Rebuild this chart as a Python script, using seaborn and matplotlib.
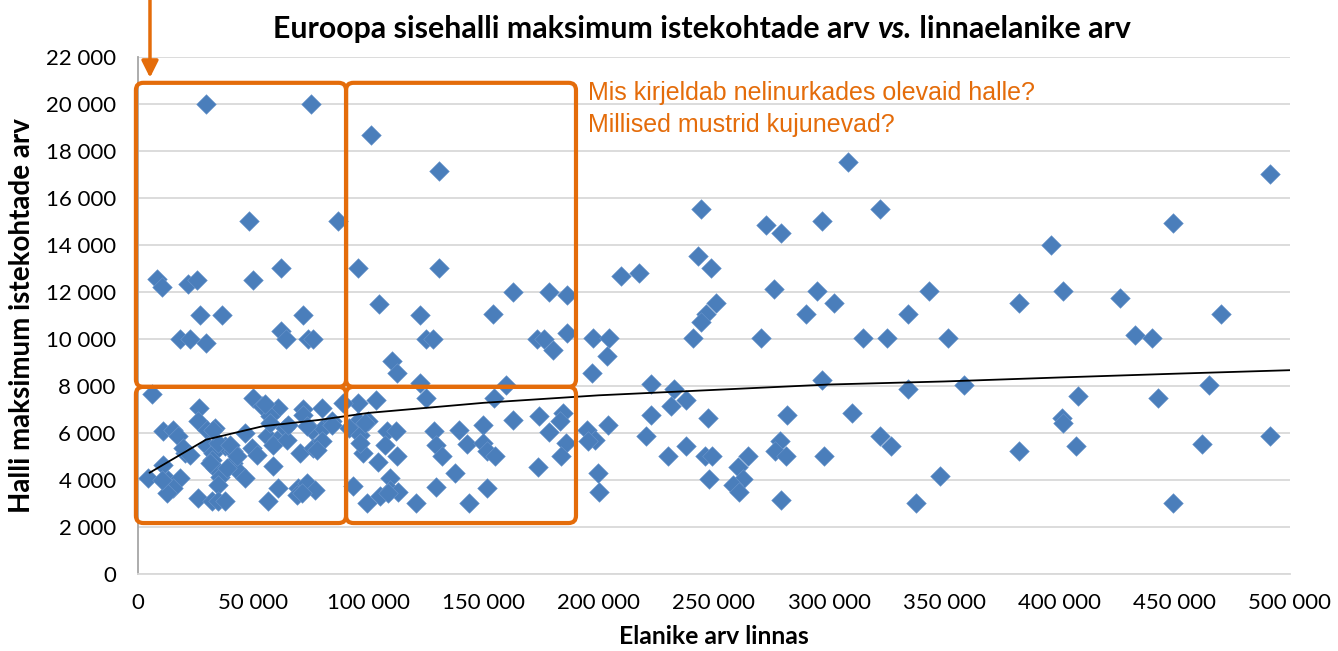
import numpy as np
import pandas as pd
import seaborn as sns
import matplotlib.pyplot as plt
from matplotlib.patches import FancyBboxPatch
from matplotlib.ticker import FuncFormatter, MultipleLocator

# Elanike arv linnas (x) ja halli maksimum istekohtade arv (y)
population = [
    # ülemine vasak kast
    29500, 75000, 48200, 87000, 8100, 10500, 21600, 25500, 49900, 62000,
    27000, 36600, 71500, 18200, 22600, 29500, 62000, 64200, 74000, 75800,
    # ülemine parem kast
    101000, 130500, 95500, 130800, 104600, 162900, 178400, 186200, 122300, 154000,
    125000, 128200, 173300, 176200, 186300, 180200, 110400, 112500,
    # alumine parem kast
    122400, 125000, 159700, 154500, 103300, 95600,
    95600, 100000, 91700, 96300, 108000, 112000, 107200, 97500, 104300, 112500,
    128500, 129300, 131800, 139500, 142700, 149900, 149900, 151300, 154900, 162900,
    174200, 184300, 183200, 178500, 185700, 183400, 173600, 137600, 93400, 109400,
    105000, 99500, 109400, 113000, 120700, 129300, 143800, 151300, 98500, 96300, 108600,
    # alumine vasak kast
    6200, 26600, 50000, 53700, 60900, 71500, 79700, 89100,
    11000, 15300, 17500, 26200, 29800, 33400, 46400, 57300, 55800, 60200, 63800, 71700,
    75400, 80400, 84000,
    20400, 29800, 32700, 37800, 41400, 49300, 51500, 58700, 64500, 70300, 76100, 79700,
    11000, 4500, 13200, 18200, 15300, 12500,
    32000, 33400, 35600, 41400, 42800, 46400, 34800, 58700, 60900, 69600, 73200, 76800, 68900,
    26200, 32000, 34800, 37800, 56500,
    19700, 22600, 34800, 39900, 31200, 38500, 42800, 32700,
    55100, 57300, 65200, 73200, 84000, 77600, 71000, 10300,
    # kastidest paremal
    308300, 244200, 322000, 272400, 279100, 297000, 243200, 248500, 209500, 217400,
    276000, 294500, 302100, 343400, 250700, 246500, 244200, 289900, 334000, 197600,
    204300, 203400, 241000, 270200, 314500, 324900, 196900, 222600, 232600, 237800,
    231200, 297000, 334000, 222600, 247500, 281500, 310000, 194700, 204100, 198300,
    195400, 220500, 230200, 237800, 246100, 249000, 264900, 260500, 262400, 258100,
    261000, 248000, 278600, 276500, 281200, 297900, 322000, 326700, 199800, 200200,
    279100, 337700, 348000,
    491300, 449100, 396100, 401300, 382400, 426200, 469900, 351700, 432700, 440200,
    358600, 465000, 408100, 442500, 400900, 401500, 382400, 407100, 461600, 491300, 449100,
]
capacity = [
    20000, 20000, 15000, 15000, 12550, 12200, 12350, 12500, 12500, 13000,
    11000, 11000, 11000, 10000, 10000, 9800, 10350, 10000, 10000, 10000,
    18680, 17150, 13000, 13000, 11500, 12000, 12000, 11850, 11000, 11050,
    10000, 10000, 10000, 10000, 10250, 9530, 9050, 8550,
    8120, 7480, 8050, 7480, 7410, 7270,
    6480, 6480, 6200, 5910, 6050, 6050, 5490, 5130, 4770, 5020,
    6050, 5490, 5020, 6130, 5530, 6340, 5560, 5200, 5020, 6550,
    6700, 6840, 6480, 6010, 5560, 5020, 4530, 4300, 3710, 4060,
    3280, 3020, 3560, 3490, 3020, 3680, 3020, 3640, 6410, 5560, 3420,
    7660, 7050, 7480, 7120, 7050, 7010, 7050, 7270,
    6050, 6130, 5840, 6480, 6130, 6200, 5990, 6700, 5840, 5700, 6200, 6770,
    6130, 6200, 6480,
    5130, 5410, 5130, 5410, 5200, 5350, 5060, 5490, 5700, 5130, 5350, 5630,
    4630, 4070, 3990, 4070, 3640, 3420,
    4850, 4490, 4130, 4710, 4420, 4070, 3780, 4560, 3640, 3640, 3850, 3570, 3350,
    3210, 3070, 3070, 3070, 3070,
    5350, 5060, 5560, 5490, 4710, 4490, 4990, 6130,
    7200, 6410, 6340, 6270, 6340, 5270, 3420, 3990,
    17520, 15520, 15520, 14840, 14500, 15020, 13530, 13000, 12680, 12780,
    12110, 12030, 11510, 12030, 11510, 11040, 10710, 11040, 11040, 10010,
    10010, 9260, 10010, 10010, 10010, 10010, 8550, 8080, 7840, 7410,
    7120, 8260, 7840, 6730, 6630, 6770, 6840, 6130, 6340, 5700,
    5630, 5840, 5020, 5440, 5020, 5020, 5020, 4530, 4020, 3780,
    3490, 4020, 5630, 5200, 5020, 5020, 5840, 5440, 4280, 3490,
    3110, 3020, 4160,
    17020, 14920, 14010, 12030, 11510, 11720, 11040, 10010, 10140, 10010,
    8010, 8020, 7550, 7480, 6630, 6420, 5230, 5440, 5530, 5840, 3020,
]

# trendijoon, loetud pildilt
trend_x = [5000, 29500, 54000, 78500, 100000, 150000, 200000, 300000, 350000, 400000, 450000, 500000]
trend_y = [4290, 5700, 6270, 6540, 6840, 7270, 7590, 8050, 8180, 8350, 8510, 8660]

orange = "#E46C0A"
blue = "#4A7EBB"

sns.set_theme(style="white")
plt.rcParams['font.family'] = ['Lato', 'DejaVu Sans']
plt.rcParams['text.color'] = 'black'
plt.rcParams['axes.labelcolor'] = 'black'

df = pd.DataFrame({"elanikud": population, "kohad": capacity})

fig = plt.figure(figsize=(13.38, 6.51), dpi=100)
ax = fig.add_axes([138 / 1338, 77.5 / 651, 1152 / 1338, 516.5 / 651])

sns.scatterplot(data=df, x="elanikud", y="kohad", marker="D", s=100, color=blue,
                edgecolor="#6A96CC", linewidth=0.4, ax=ax, zorder=3)
ax.plot(trend_x, trend_y, color="black", lw=1.3, zorder=4)

ax.set_xlim(0, 500000)
ax.set_ylim(0, 22000)
ax.xaxis.set_major_locator(MultipleLocator(50000))
ax.yaxis.set_major_locator(MultipleLocator(2000))
fmt = FuncFormatter(lambda v, p: f"{int(v):,}".replace(",", " "))
ax.xaxis.set_major_formatter(fmt)
ax.yaxis.set_major_formatter(fmt)
ax.tick_params(length=0, labelsize=16, colors="black")
ax.tick_params(axis="y", pad=16)
ax.tick_params(axis="x", pad=14)

ax.grid(axis="y", color="#D9D9D9", lw=1.3)
ax.set_axisbelow(True)
for side in ["top", "right"]:
    ax.spines[side].set_visible(False)
ax.spines["left"].set_color("#A6A6A6")
ax.spines["bottom"].set_color("#D9D9D9")
ax.spines["left"].set_linewidth(1.3)
ax.spines["bottom"].set_linewidth(1.3)

ax.set_xlabel("Elanike arv linnas", fontsize=17.8, fontweight="bold", va="center")
ax.set_ylabel("Halli maksimum istekohtade arv", fontsize=20, fontweight="bold", va="center")
ax.xaxis.set_label_coords(0.5, (573.5 - 637) / 516.5)
ax.yaxis.set_label_coords((22 - 138) / 1152, 0.5)

# pealkiri kolmes osas, "vs." kaldkirjas
t1 = fig.text(273 / 1338, 1 - 43 / 651, "Euroopa sisehalli maksimum istekohtade arv ",
              fontsize=21.8, fontweight="bold", va="bottom", ha="left")
t2 = ax.annotate("vs.", xy=(1, 0), xycoords=t1, va="bottom", ha="left",
                 fontsize=21.8, fontweight="bold", style="italic", annotation_clip=False)
ax.annotate(" linnaelanike arv", xy=(1, 0), xycoords=t2, va="bottom", ha="left",
            fontsize=21.8, fontweight="bold", annotation_clip=False)

# oranžid kastid
box_x = [-900, 90300, 190100]
box_y = [2150, 7950, 20900]
aspect = (22000 / 516.5) / (500000 / 1152)
for i in range(2):
    for j in range(2):
        rect = FancyBboxPatch((box_x[i], box_y[j]), box_x[i + 1] - box_x[i], box_y[j + 1] - box_y[j],
                              boxstyle="round,pad=0,rounding_size=3200", mutation_aspect=aspect,
                              fill=False, edgecolor=orange, lw=3, clip_on=False, zorder=5)
        ax.add_patch(rect)

ax.annotate("", xy=(5200, 21000), xytext=(5200, 24700),
            arrowprops=dict(arrowstyle="-|>", color=orange, lw=2.5, mutation_scale=25),
            annotation_clip=False)

fig.text(588 / 1338, 1 - 93 / 651, "Mis kirjeldab nelinurkades olevaid halle?",
         fontsize=18, color=orange, va="center", ha="left", family=["Liberation Sans"])
fig.text(588 / 1338, 1 - 125 / 651, "Millised mustrid kujunevad?",
         fontsize=18, color=orange, va="center", ha="left", family=["Liberation Sans"])

plt.savefig("out.png", dpi=100)
